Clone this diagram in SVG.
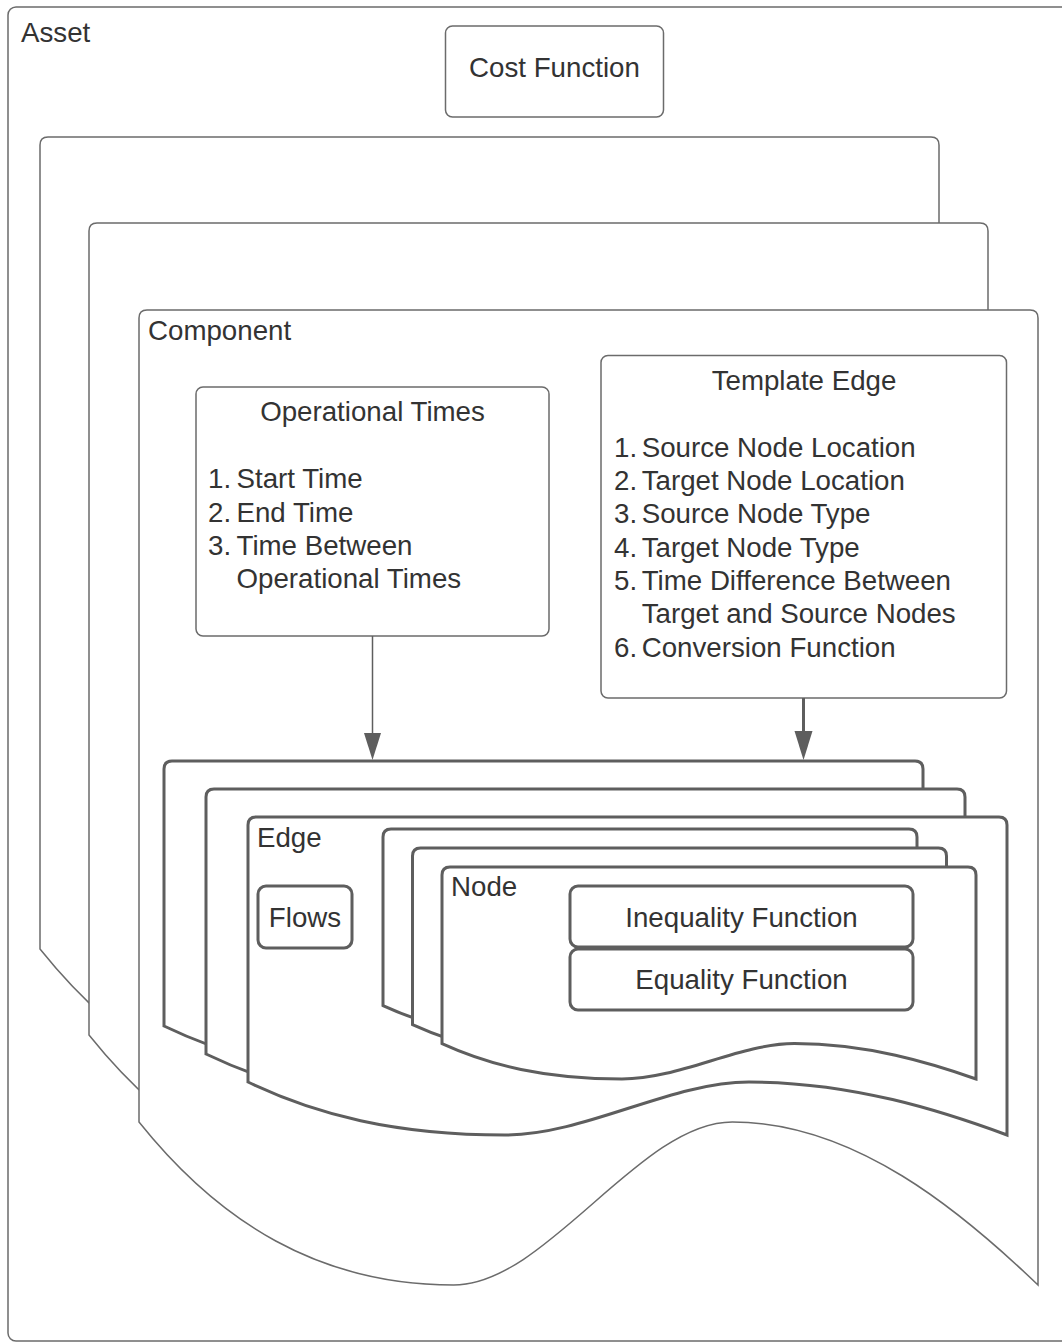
<svg xmlns="http://www.w3.org/2000/svg" xmlns:xlink="http://www.w3.org/1999/xlink" width="1062" height="1343" viewBox="0 0 1062 1343">
  <style>
    text { font-family: "Liberation Sans", Arial, sans-serif; font-size: 27.7px; fill: #333333; }
    .mid { text-anchor: middle; }
    .thin { fill: #ffffff; stroke: #6b6b6b; stroke-width: 1.5; }
    .thick { fill: #ffffff; stroke: #5e5e5e; stroke-width: 3; }
    .wire { fill: none; stroke: #5e5e5e; }
    .head { fill: #5e5e5e; }
  </style>
  <defs>
    <!-- document outline with a wavy bottom; copies are shifted back in the stacks -->
    <path id="outerDoc" d="M139,1122 V318 Q139,310 147,310 H1030 Q1038,310 1038,318 V1285 C961.6,1211.7 854.6,1122 732.3,1122 C639.7,1122 546.2,1285 453.7,1285 C318.8,1285 219,1222 139,1122 Z"/>
    <path id="edgeDoc" d="M248,1082 V825 Q248,817 256,817 H999 Q1007,817 1007,825 V1135 C942.5,1111.2 852.2,1082 748.9,1082 C670.8,1082 585,1135 505,1135 C395,1135 315.6,1114.5 248,1082 Z"/>
    <path id="nodeDoc" d="M442,1043.6 V875 Q442,867 450,867 H968 Q976,867 976,875 V1079 C930.6,1063.1 867.1,1043.6 794.4,1043.6 C739.4,1043.6 680,1079 622,1079 C545,1079 489.5,1065.3 442,1043.6 Z"/>
  </defs>

  <g id="asset">
    <rect class="thin" x="8" y="7" width="1080" height="1334" rx="8"/>
    <text x="21" y="42">Asset</text>
  </g>

  <g id="cost-function">
    <rect class="thin" x="445.5" y="26" width="218" height="91" rx="7"/>
    <text class="mid" x="554.5" y="77">Cost Function</text>
  </g>

  <g id="component-back-2">
    <use xlink:href="#outerDoc" class="thin" transform="translate(-99 -173)"/>
  </g>
  <g id="component-back-1">
    <use xlink:href="#outerDoc" class="thin" transform="translate(-50 -87)"/>
  </g>
  <g id="component">
    <use xlink:href="#outerDoc" class="thin"/>
    <text x="148" y="340">Component</text>
  </g>

  <g id="operational-times">
    <rect class="thin" x="196" y="387" width="353" height="249" rx="7"/>
    <text class="mid" x="372.5" y="421">Operational Times</text>
    <text x="208" y="488.3">1.</text><text x="236.5" y="488.3">Start Time</text>
    <text x="208" y="521.6">2.</text><text x="236.5" y="521.6">End Time</text>
    <text x="208" y="555">3.</text><text x="236.5" y="555">Time Between</text>
    <text x="236.5" y="588.3">Operational Times</text>
  </g>

  <g id="template-edge">
    <rect class="thin" x="601" y="355.5" width="405.5" height="342.5" rx="7"/>
    <text class="mid" x="804" y="390">Template Edge</text>
    <text x="614" y="456.7">1.</text><text x="641.7" y="456.7">Source Node Location</text>
    <text x="614" y="490">2.</text><text x="641.7" y="490">Target Node Location</text>
    <text x="614" y="523.3">3.</text><text x="641.7" y="523.3">Source Node Type</text>
    <text x="614" y="556.7">4.</text><text x="641.7" y="556.7">Target Node Type</text>
    <text x="614" y="590">5.</text><text x="641.7" y="590">Time Difference Between</text>
    <text x="641.7" y="623.3">Target and Source Nodes</text>
    <text x="614" y="656.7">6.</text><text x="641.7" y="656.7">Conversion Function</text>
  </g>

  <g id="connectors">
    <line class="wire" x1="372.5" y1="636" x2="372.5" y2="733" stroke-width="1.5"/>
    <path class="head" d="M364,733 L381,733 L372.5,760 Z"/>
    <line class="wire" x1="803.5" y1="698" x2="803.5" y2="731" stroke-width="3"/>
    <path class="head" d="M794.5,731 L812.5,731 L803.5,760 Z"/>
  </g>

  <g id="edge-back-2">
    <use xlink:href="#edgeDoc" class="thick" transform="translate(-84 -56)"/>
  </g>
  <g id="edge-back-1">
    <use xlink:href="#edgeDoc" class="thick" transform="translate(-42 -28)"/>
  </g>
  <g id="edge">
    <use xlink:href="#edgeDoc" class="thick"/>
    <text x="257" y="846.7">Edge</text>
  </g>

  <g id="flows">
    <rect class="thick" x="258" y="886" width="94" height="62" rx="8"/>
    <text class="mid" x="305" y="926.7">Flows</text>
  </g>

  <g id="node-back-2">
    <use xlink:href="#nodeDoc" class="thick" transform="translate(-59 -38)"/>
  </g>
  <g id="node-back-1">
    <use xlink:href="#nodeDoc" class="thick" transform="translate(-29.5 -19)"/>
  </g>
  <g id="node">
    <use xlink:href="#nodeDoc" class="thick"/>
    <text x="451" y="895.7">Node</text>
  </g>

  <g id="inequality-function">
    <rect class="thick" x="570" y="886" width="343" height="61" rx="8"/>
    <text class="mid" x="741.5" y="927">Inequality Function</text>
  </g>

  <g id="equality-function">
    <rect class="thick" x="570" y="949" width="343" height="61" rx="8"/>
    <text class="mid" x="741.5" y="989">Equality Function</text>
  </g>
</svg>
